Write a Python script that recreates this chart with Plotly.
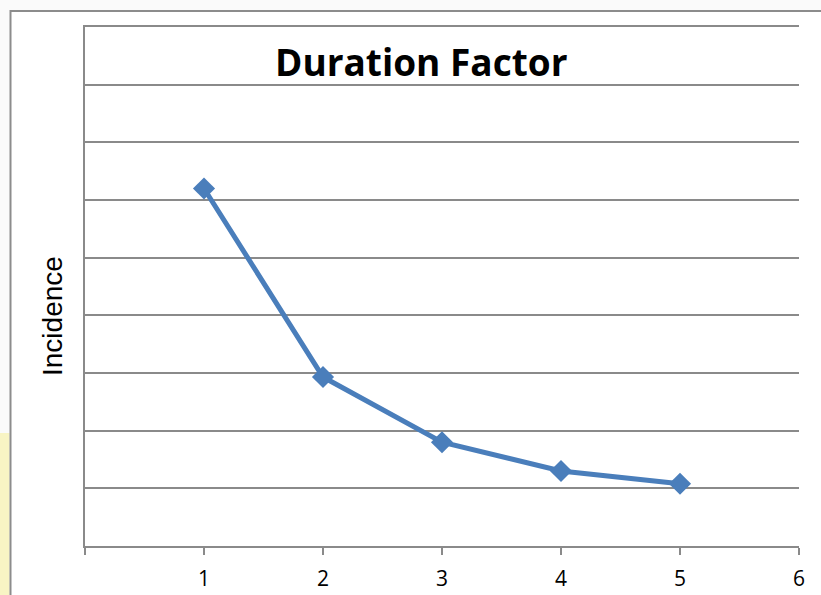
import plotly.graph_objects as go

# Data
x_vals = [1, 2, 3, 4, 5]
incidence = [6.20, 2.93, 1.80, 1.30, 1.08]
x_tick_vals = [0, 1, 2, 3, 4, 5, 6]
x_tick_text = ["", "1", "2", "3", "4", "5", "6"]

title_text = "Duration Factor"
y_title = "Incidence"

W, H = 821, 595
L, R, T, B = 85, 22, 27, 49
pw = W - L - R
ph = H - T - B

def px_to_paper_x(px):
    return (px - L) / pw

def px_to_paper_y(py):
    return (H - B - py) / ph

grid = "#8a8a8a"

fig = go.Figure()
fig.add_trace(go.Scatter(
    x=x_vals, y=incidence, mode="lines+markers",
    line=dict(color="#4a7ebb", width=5),
    marker=dict(symbol="diamond", size=17, color="#4a7ebb"),
    showlegend=False, cliponaxis=False,
))

fig.update_layout(
    width=W, height=H,
    margin=dict(l=L, r=R, t=T, b=B, autoexpand=False),
    paper_bgcolor="#fafafa",
    plot_bgcolor="white",
    xaxis=dict(
        range=[0, 6], tickmode="array", tickvals=x_tick_vals, ticktext=x_tick_text,
        showgrid=False, zeroline=False, showline=True, linecolor=grid, linewidth=1.5,
        mirror=True, automargin=False,
        ticks="outside", ticklen=7, tickwidth=1.5, tickcolor=grid,
        tickfont=dict(family="Open Sans", size=21, color="#000000"),
        ticklabelstandoff=6,
    ),
    yaxis=dict(
        range=[0, 9], dtick=1, showticklabels=False, showgrid=True, gridcolor=grid,
        gridwidth=1.5, zeroline=False, showline=True, linecolor=grid, linewidth=1.5,
        ticks="", automargin=False,
    ),
    shapes=[
        dict(type="rect", xref="paper", yref="paper",
             x0=px_to_paper_x(0), x1=px_to_paper_x(9.5),
             y0=px_to_paper_y(600), y1=px_to_paper_y(433),
             fillcolor="#f8f4c4", line=dict(width=0), layer="below"),
        dict(type="rect", xref="paper", yref="paper",
             x0=px_to_paper_x(10.5), x1=px_to_paper_x(830),
             y0=px_to_paper_y(610), y1=px_to_paper_y(11),
             fillcolor="white", line=dict(color="#8c8c8c", width=2), layer="below"),
    ],
    annotations=[
        dict(text="<b>" + title_text + "</b>", xref="paper", yref="paper",
             x=px_to_paper_x(421), y=px_to_paper_y(61), xanchor="center", yanchor="middle",
             showarrow=False, font=dict(family="Open Sans", size=37, color="#000000")),
        dict(text=y_title, xref="paper", yref="paper",
             x=px_to_paper_x(52), y=px_to_paper_y(316), xanchor="center", yanchor="middle",
             textangle=-90, showarrow=False,
             font=dict(family="Liberation Sans", size=28, color="#000000")),
    ],
)

fig.write_html("out.html")
